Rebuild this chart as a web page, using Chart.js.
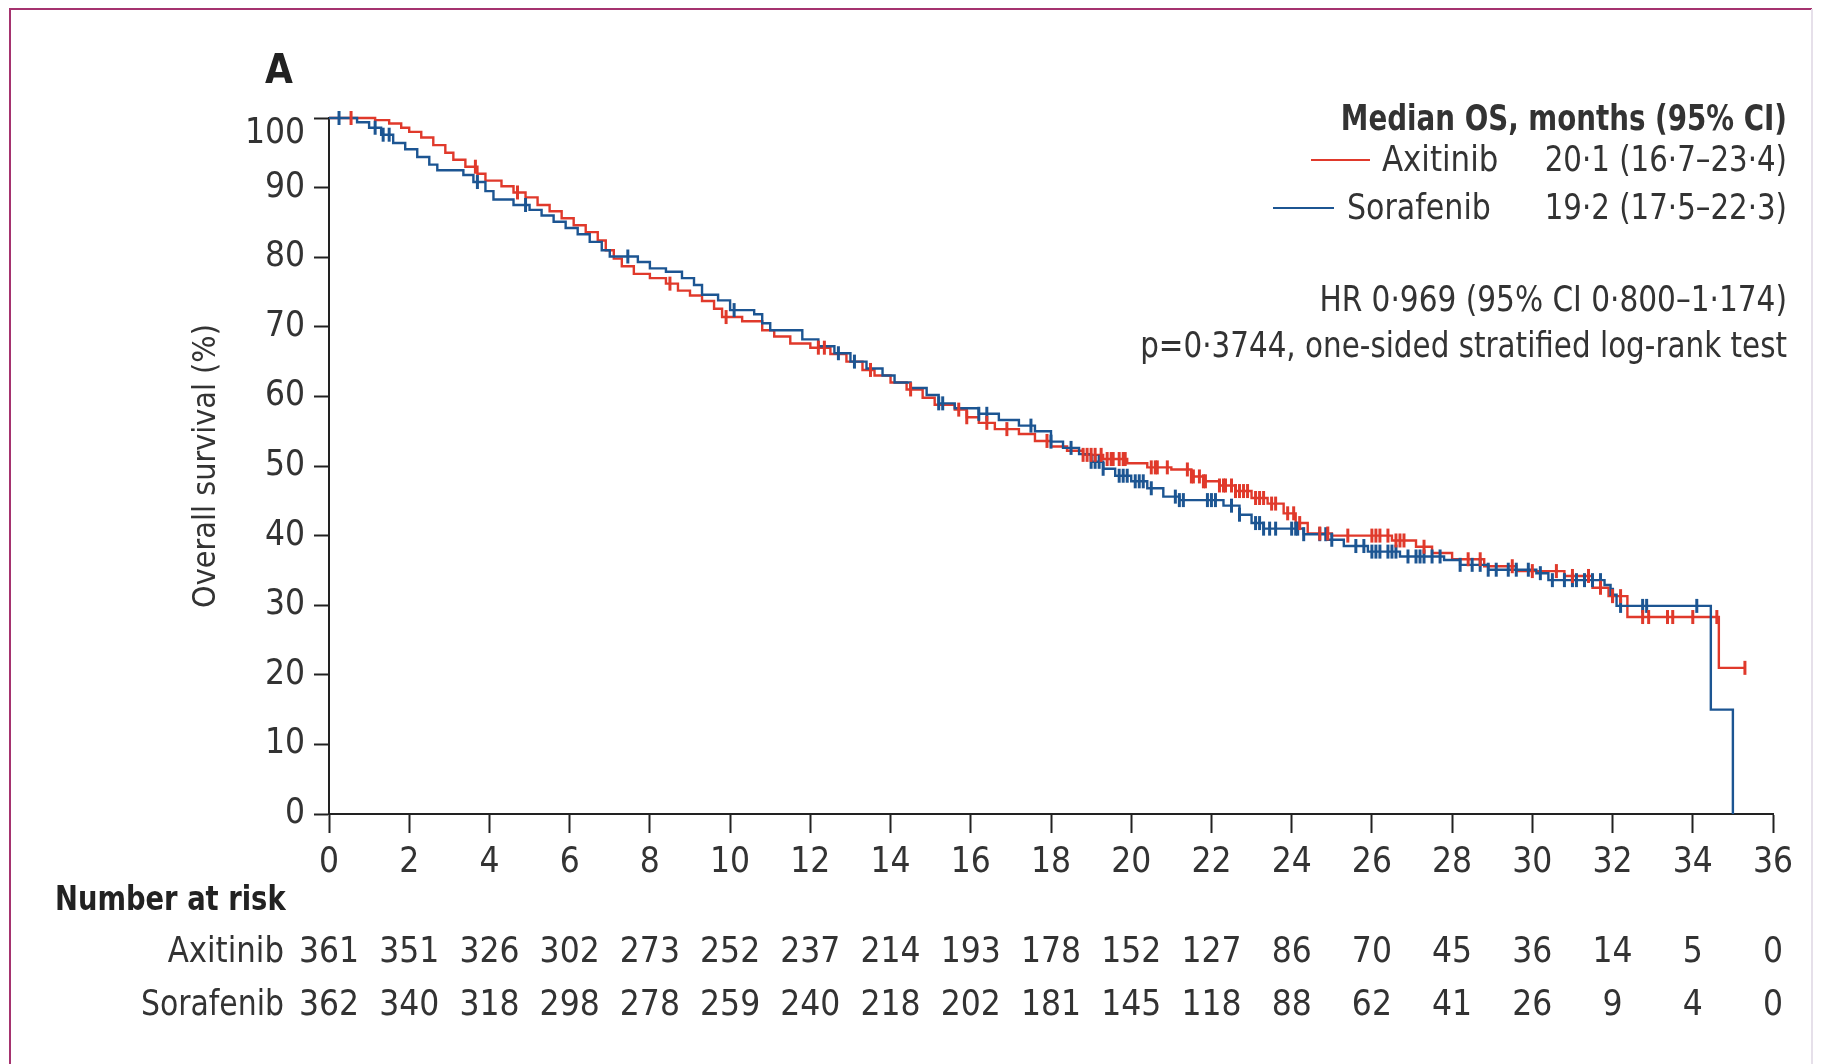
<!DOCTYPE html>
<html><head><meta charset="utf-8">
<script src="https://cdn.jsdelivr.net/npm/chart.js@4/dist/chart.umd.min.js"></script>
<style>html,body{margin:0;padding:0;background:#fff}canvas{display:block}</style>
</head><body><canvas id="c" width="1825" height="1064"></canvas>
<script>
const FONT = '"Liberation Sans Narrow","DejaVu Sans Condensed","Liberation Sans",sans-serif';

const xTickValues = [0,2,4,6,8,10,12,14,16,18,20,22,24,26,28,30,32,34,36];
const yTickValues = [0,10,20,30,40,50,60,70,80,90,100];

const seriesNames = ['Axitinib','Sorafenib'];
const medianText = ['20·1 (16·7–23·4)','19·2 (17·5–22·3)'];

const axitinibTimes = [0,1.15,1.5,1.8,2.0,2.3,2.6,2.9,3.1,3.4,3.7,3.9,4.3,4.6,4.9,5.2,5.5,5.8,6.1,6.4,6.7,6.9,7.1,7.3,7.6,8.0,8.4,8.7,9.0,9.3,9.6,9.8,10.3,10.8,11.1,11.5,12.0,12.5,12.9,13.3,13.6,14.0,14.4,14.8,15.1,15.6,15.9,16.2,16.6,17.2,17.6,18.0,18.4,18.8,19.3,19.9,20.4,21.0,21.5,21.8,22.2,22.6,23.0,23.4,23.8,24.1,24.4,25.0,26.5,27.1,27.5,28.0,28.8,29.6,30.8,31.5,31.9,32.37,34.65,35.3];
const axitinibSurv  = [100,99.7,99.2,98.6,98.0,97.2,96.1,95.0,94.0,93.0,92.0,91.0,90.2,89.3,88.6,87.5,86.6,85.6,84.6,83.6,82.4,81.0,79.8,78.7,77.6,77.0,76.2,75.2,74.5,73.7,72.6,71.4,70.8,69.5,68.6,67.6,67.0,66.1,65.0,63.8,63.0,62.0,61.0,59.8,58.8,58.1,57.0,56.2,55.3,54.6,53.6,52.8,52.2,51.6,51.0,50.4,49.8,49.5,48.5,47.8,47.2,46.4,45.4,44.6,43.2,41.8,40.3,40.0,39.3,38.4,37.5,36.6,35.6,34.9,34.2,32.5,31.3,28.3,21.0,21.0];

const sorafenibTimes = [0,0.7,1.0,1.3,1.6,1.9,2.2,2.5,2.7,3.35,3.6,3.9,4.1,4.6,5.0,5.3,5.6,5.9,6.2,6.5,6.8,7.0,7.7,8.0,8.4,8.8,9.1,9.3,9.7,10.0,10.6,10.8,11.0,11.8,12.2,12.6,13.0,13.4,13.8,14.1,14.5,14.9,15.2,15.6,16.2,16.7,17.2,17.6,18.0,18.3,18.7,19.0,19.3,19.6,20.0,20.4,20.8,21.2,22.3,22.7,23.0,23.3,24.3,24.9,25.3,25.9,26.7,27.8,28.2,28.9,30.1,30.4,31.8,31.95,32.1,34.45,35.0];
const sorafenibSurv  = [100,99.4,98.6,97.6,96.4,95.5,94.4,93.3,92.5,91.8,90.8,89.5,88.3,87.5,86.8,86.0,85.1,84.2,83.3,82.2,81.0,80.1,79.3,78.4,77.9,77.0,76.0,74.6,73.8,72.4,71.8,70.5,69.5,68.2,67.2,66.2,65.0,64.0,63.0,62.0,61.2,60.2,59.0,58.3,57.5,56.6,55.8,55.0,53.5,52.6,51.7,50.6,49.6,48.6,47.8,46.8,45.6,45.1,44.3,43.0,41.8,41.0,40.2,39.4,38.5,37.7,37.0,36.5,35.8,35.1,34.6,33.6,32.9,31.5,29.9,15.0,0];

const axitinibCensor = [0.55,3.65,4.7,8.5,9.9,12.2,12.35,13.5,14.5,15.7,15.9,16.4,16.9,17.9,18.8,18.9,19.0,19.1,19.25,19.4,19.5,19.55,19.7,19.8,19.85,20.5,20.6,20.65,20.9,21.4,21.5,21.55,21.7,21.8,21.85,22.2,22.3,22.35,22.5,22.6,22.7,22.8,22.9,23.1,23.2,23.3,23.5,23.6,23.9,24.05,24.2,24.7,24.9,25.4,26.0,26.1,26.2,26.4,26.6,26.7,26.8,27.3,28.4,28.7,29.5,30.0,30.6,31.0,31.4,31.7,32.0,32.2,32.75,32.9,33.37,33.5,34.0,34.6,35.3];
const sorafenibCensor = [0.25,1.15,1.35,1.5,3.7,4.9,7.45,10.1,12.7,13.1,15.2,15.3,16.2,16.4,17.5,18.0,18.5,19.0,19.1,19.2,19.3,19.7,19.8,19.9,20.1,20.2,20.3,20.5,21.1,21.2,21.3,21.9,22.0,22.1,22.5,22.7,23.1,23.2,23.3,23.45,23.6,24.0,24.1,24.15,24.3,24.7,24.85,25.0,25.6,25.8,26.0,26.1,26.2,26.4,26.5,26.6,26.9,27.1,27.2,27.3,27.5,27.7,28.2,28.5,28.7,28.9,29.1,29.4,29.6,29.9,30.2,30.5,30.8,31.0,31.1,31.3,31.5,31.7,32.0,32.2,32.75,32.85,34.1];

const axitinibAtRisk  = [361,351,326,302,273,252,237,214,193,178,152,127,86,70,45,36,14,5,0];
const sorafenibAtRisk = [362,340,318,298,278,259,240,218,202,181,145,118,88,62,41,26,9,4,0];

const RED = '#e0392b';
const BLUE = '#1c5592';
const TXT = '#333333';

function toPoints(ts, vs){ return ts.map((t,i)=>({x:t,y:vs[i]})); }
function survAt(ts, vs, t){ let v = vs[0]; for(let i=0;i<ts.length;i++){ if(ts[i]<=t) v=vs[i]; } return v; }
function censorPoints(cs, ts, vs){ return cs.map(t=>({x:t,y:survAt(ts,vs,t)})); }

function sText(ctx, text, x, y, align, sx){
  ctx.save();
  ctx.translate(x, y);
  ctx.scale(sx, 1);
  ctx.textAlign = align;
  ctx.fillText(text, 0, 0);
  ctx.restore();
}

const textPlugin = {
  id:'texts',
  afterDraw(chart){
    const ctx = chart.ctx;
    const xs = chart.scales.x;
    ctx.save();
    // frame
    ctx.lineWidth = 2;
    ctx.strokeStyle = '#a5336f';
    ctx.beginPath();
    ctx.moveTo(10, 1064); ctx.lineTo(10, 9); ctx.lineTo(1812, 9);
    ctx.stroke();
    ctx.strokeStyle = '#e6e0ea';
    ctx.beginPath(); ctx.moveTo(1812, 9); ctx.lineTo(1812, 1064); ctx.stroke();

    ctx.fillStyle = '#222';
    ctx.textBaseline = 'middle';
    ctx.font = 'bold 40px ' + FONT;
    sText(ctx, 'A', 265, 73, 'left', 1);

    // y title
    ctx.save();
    ctx.translate(207, 466);
    ctx.rotate(-Math.PI/2);
    ctx.fillStyle = TXT;
    ctx.font = '32px ' + FONT;
    sText(ctx, 'Overall survival (%)', 0, 0, 'center', 1);
    ctx.restore();

    // legend
    ctx.fillStyle = TXT;
    ctx.font = 'bold 35px ' + FONT;
    sText(ctx, 'Median OS, months (95% CI)', 1787, 121, 'right', 0.88);
    ctx.font = '35px ' + FONT;
    sText(ctx, medianText[0], 1787, 162, 'right', 0.93);
    sText(ctx, medianText[1], 1787, 210, 'right', 0.93);
    sText(ctx, seriesNames[0], 1382, 162, 'left', 0.98);
    sText(ctx, seriesNames[1], 1347, 210, 'left', 0.955);
    ctx.lineWidth = 2;
    ctx.strokeStyle = RED;
    ctx.beginPath(); ctx.moveTo(1311,160); ctx.lineTo(1370,160); ctx.stroke();
    ctx.strokeStyle = BLUE;
    ctx.beginPath(); ctx.moveTo(1273,208); ctx.lineTo(1334,208); ctx.stroke();
    sText(ctx, 'HR 0·969 (95% CI 0·800–1·174)', 1787, 302, 'right', 0.94);
    sText(ctx, 'p=0·3744, one-sided stratified log-rank test', 1787, 348, 'right', 0.934);

    // risk table
    ctx.font = 'bold 34px ' + FONT;
    ctx.fillStyle = '#222';
    sText(ctx, 'Number at risk', 55, 901, 'left', 0.895);
    ctx.font = '35px ' + FONT;
    ctx.fillStyle = TXT;
    sText(ctx, seriesNames[0], 284, 953, 'right', 0.98);
    sText(ctx, seriesNames[1], 284, 1006, 'right', 0.95);
    ctx.textAlign = 'center';
    xTickValues.forEach((t,i)=>{
      const px = xs.getPixelForValue(t);
      ctx.fillText(String(axitinibAtRisk[i]), px, 953);
      ctx.fillText(String(sorafenibAtRisk[i]), px, 1006);
    });
    ctx.restore();
  }
};

new Chart(document.getElementById('c'), {
  type:'line',
  data:{
    datasets:[
      {label:'Axitinib', data:toPoints(axitinibTimes, axitinibSurv), borderColor:RED, borderWidth:2.4, stepped:'before', pointRadius:0, fill:false, order:2},
      {label:'Sorafenib', data:toPoints(sorafenibTimes, sorafenibSurv), borderColor:BLUE, borderWidth:2.4, stepped:'before', pointRadius:0, fill:false, order:1},
      {type:'scatter', label:'Axitinib censored', data:censorPoints(axitinibCensor, axitinibTimes, axitinibSurv), showLine:false, pointStyle:'line', rotation:90, pointRadius:7, pointBorderWidth:3, borderColor:RED, backgroundColor:RED, order:0},
      {type:'scatter', label:'Sorafenib censored', data:censorPoints(sorafenibCensor, sorafenibTimes, sorafenibSurv), showLine:false, pointStyle:'line', rotation:90, pointRadius:7, pointBorderWidth:3, borderColor:BLUE, backgroundColor:BLUE, order:0}
    ]
  },
  options:{
    responsive:false, animation:false, devicePixelRatio:1,
    layout:{padding:{left:0, top:118, right:52, bottom:0}},
    plugins:{legend:{display:false}, tooltip:{enabled:false}},
    elements:{line:{tension:0}},
    clip:false,
    scales:{
      x:{type:'linear', min:0, max:36,
        afterBuildTicks(s){ s.ticks = xTickValues.map(v=>({value:v})); },
        afterFit(s){ s.height = 250; },
        grid:{display:true, drawOnChartArea:false, drawTicks:true, tickLength:19, tickWidth:2, tickColor:'#222'},
        border:{display:true, color:'#222', width:2},
        ticks:{color:TXT, font:{family:FONT, size:35}, padding:9, maxRotation:0, autoSkip:false}
      },
      y:{type:'linear', min:0, max:100,
        afterBuildTicks(s){ s.ticks = yTickValues.map(v=>({value:v})); },
        afterFit(s){ s.width = 329; },
        grid:{display:true, drawOnChartArea:false, drawTicks:true, tickLength:15, tickWidth:2, tickColor:'#222'},
        border:{display:true, color:'#222', width:2},
        ticks:{color:TXT, font:{family:FONT, size:35, lineHeight:0.91}, padding:9, autoSkip:false,
          callback(v){ return v === 100 ? ['', String(v)] : String(v); }}
      }
    }
  },
  plugins:[textPlugin]
});
</script>
</body></html>
